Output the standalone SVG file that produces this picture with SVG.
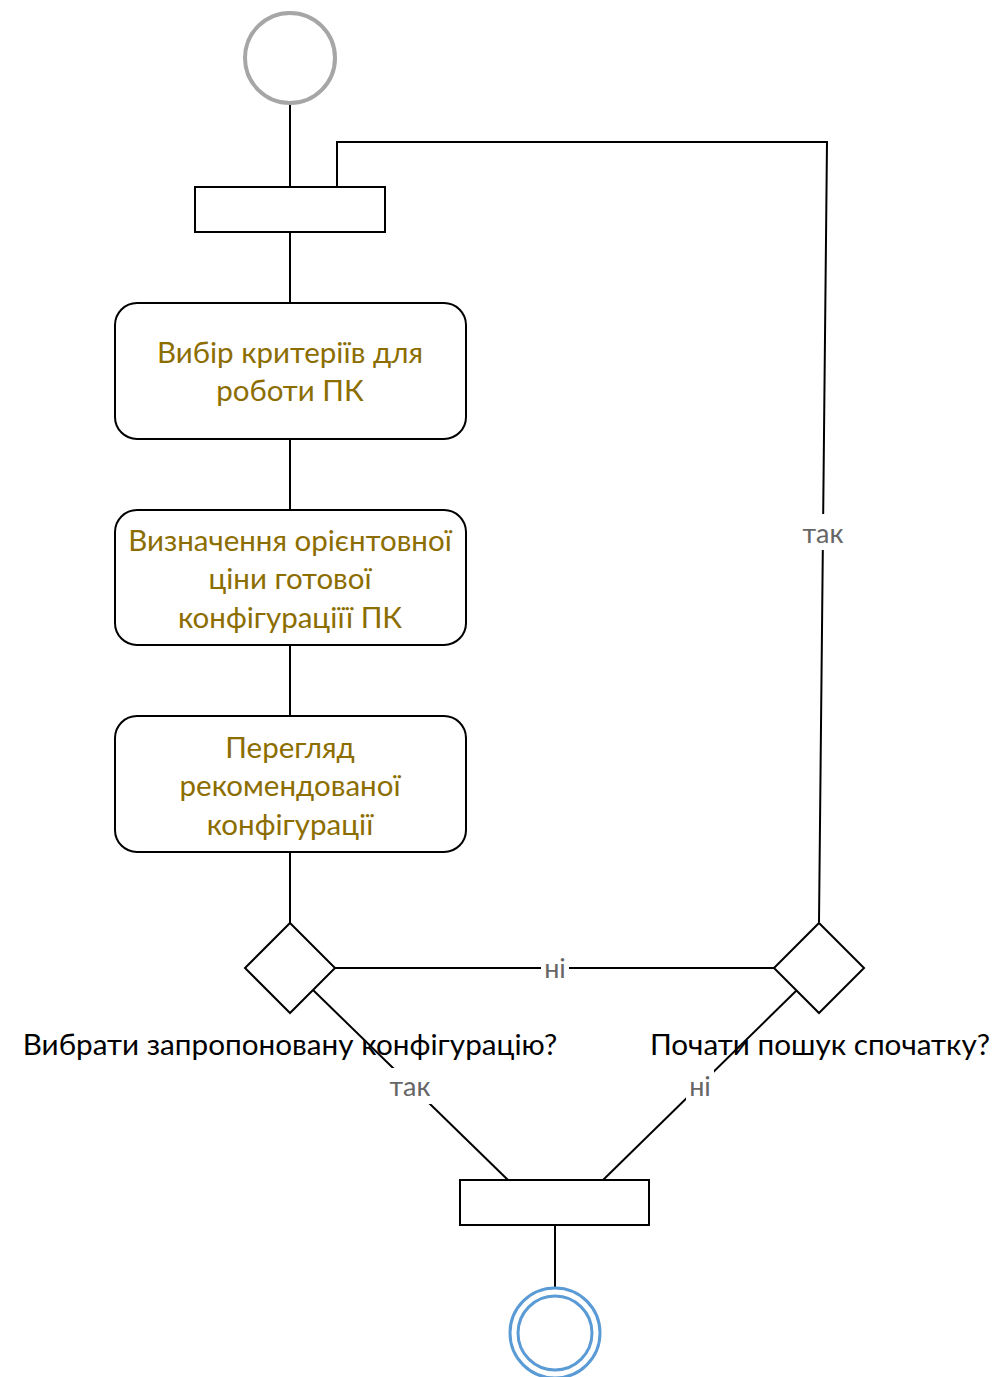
<svg xmlns="http://www.w3.org/2000/svg" width="992" height="1377" viewBox="0 0 992 1377">
  <style>
    .edge { fill: none; stroke: #000; stroke-width: 2; }
    .act { fill: #fff; stroke: #000; stroke-width: 2; }
    .bar { fill: #fff; stroke: #000; stroke-width: 2; }
    .dec { fill: #fff; stroke: #000; stroke-width: 2; }
    .actText { font-family: Lato, "Open Sans", sans-serif; font-size: 29.5px; fill: #8C6D00; text-anchor: middle; }
    .q { font-family: Lato, "Open Sans", sans-serif; font-size: 29.7px; fill: #000; text-anchor: middle; }
    .lbl { font-family: Lato, "Open Sans", sans-serif; font-size: 27px; fill: #666; text-anchor: middle; }
    .lblBg { fill: #fff; }
  </style>
  <rect width="992" height="1377" fill="#fff"/>

  <g id="connectors">
    <line class="edge" x1="290" y1="104" x2="290" y2="187"/>
    <polyline class="edge" points="337,187 337,142 827,142 819,922"/>
    <line class="edge" x1="290" y1="232" x2="290" y2="303"/>
    <line class="edge" x1="290" y1="439" x2="290" y2="510"/>
    <line class="edge" x1="290" y1="645" x2="290" y2="716"/>
    <line class="edge" x1="290" y1="852" x2="290" y2="923"/>
    <line class="edge" x1="335" y1="968" x2="774" y2="968"/>
    <line class="edge" x1="313" y1="990" x2="508" y2="1180"/>
    <line class="edge" x1="797" y1="990" x2="603" y2="1180"/>
    <line class="edge" x1="555" y1="1225" x2="555" y2="1288"/>
    <!-- edge labels -->
    <rect class="lblBg" x="799" y="514" width="48" height="36"/>
    <text class="lbl" x="823" y="543">так</text>
    <rect class="lblBg" x="541" y="953" width="28" height="30"/>
    <text class="lbl" x="555" y="978">ні</text>
    <rect class="lblBg" x="386" y="1068" width="48" height="36"/>
    <text class="lbl" x="410" y="1096">так</text>
    <rect class="lblBg" x="686" y="1068" width="28" height="36"/>
    <text class="lbl" x="700" y="1096">ні</text>
  </g>

  <g id="start">
    <circle cx="290" cy="58" r="45" fill="#fff" stroke="#A6A6A6" stroke-width="4"/>
  </g>

  <g id="fork">
    <rect class="bar" x="195" y="187" width="190" height="45"/>
  </g>

  <g id="act1">
    <rect class="act" x="115" y="303" width="351" height="136" rx="22"/>
    <text class="actText" x="290" y="363">Вибір критеріїв для</text>
    <text class="actText" x="290" y="401">роботи ПК</text>
  </g>

  <g id="act2">
    <rect class="act" x="115" y="510" width="351" height="135" rx="22"/>
    <text class="actText" x="290" y="551">Визначення орієнтовної</text>
    <text class="actText" x="290" y="589">ціни готової</text>
    <text class="actText" x="290" y="628">конфігураціїї ПК</text>
  </g>

  <g id="act3">
    <rect class="act" x="115" y="716" width="351" height="136" rx="22"/>
    <text class="actText" x="290" y="758">Перегляд</text>
    <text class="actText" x="290" y="796">рекомендованої</text>
    <text class="actText" x="290" y="835">конфігурації</text>
  </g>

  <g id="decision1">
    <polygon class="dec" points="290,923 335,968 290,1013 245,968"/>
  </g>

  <g id="decision2">
    <polygon class="dec" points="819,923 864,968 819,1013 774,968"/>
  </g>

  <g id="questions">
    <text class="q" x="290" y="1055">Вибрати запропоновану конфігурацію?</text>
    <text class="q" x="820" y="1055">Почати пошук спочатку?</text>
  </g>

  <g id="join">
    <rect class="bar" x="460" y="1180" width="189" height="45"/>
  </g>

  <g id="end">
    <circle cx="555" cy="1333" r="45" fill="#fff" stroke="#5B9BD5" stroke-width="3"/>
    <circle cx="555" cy="1333" r="37" fill="none" stroke="#5B9BD5" stroke-width="3"/>
  </g>
</svg>
